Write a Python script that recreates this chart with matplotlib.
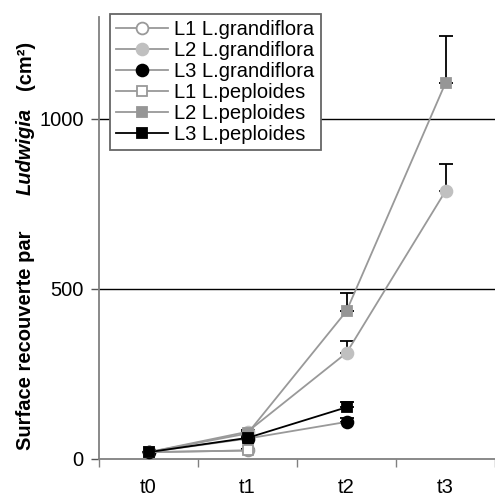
import numpy as np
import matplotlib
matplotlib.use("Agg")
import matplotlib.pyplot as plt

plt.rcParams["font.family"] = ["Liberation Sans", "DejaVu Sans"]

# categories
times = ["t0", "t1", "t2", "t3"]
nan = np.nan

# series (cm2) and upper error
l1_gran = [20, 25, nan, nan]
l1_gran_err = [0, 4, 0, 0]
l2_gran = [20, 80, 312, 788]
l2_gran_err = [0, 5, 35, 80]
l3_gran = [20, 60, 109, nan]
l3_gran_err = [0, 5, 12, 0]
l1_pep = [20, 25, nan, nan]
l1_pep_err = [0, 4, 0, 0]
l2_pep = [20, 75, 435, 1106]
l2_pep_err = [0, 5, 53, 138]
l3_pep = [20, 62, 152, nan]
l3_pep_err = [0, 8, 16, 0]

series = [
    ("L1 L.grandiflora", l1_gran, l1_gran_err, "#999999", "o", "white", "#999999", 8.5),
    ("L2 L.grandiflora", l2_gran, l2_gran_err, "#999999", "o", "#c0c0c0", "#c0c0c0", 8.5),
    ("L3 L.grandiflora", l3_gran, l3_gran_err, "#999999", "o", "black", "black", 8.5),
    ("L1 L.peploides", l1_pep, l1_pep_err, "#999999", "s", "white", "#999999", 7),
    ("L2 L.peploides", l2_pep, l2_pep_err, "#999999", "s", "#969696", "#969696", 7),
    ("L3 L.peploides", l3_pep, l3_pep_err, "black", "s", "black", "black", 7),
]

W, H = 495, 497
fig = plt.figure(figsize=(W / 100, H / 100), dpi=100)
ax = fig.add_axes([0.2, 0.0765, 0.8, 0.8893])

x = np.arange(len(times))
for label, vals, err, lc, mk, mfc, mec, ms in series:
    vals = np.array(vals, dtype=float)
    err = np.array(err, dtype=float)
    ax.errorbar(x, vals, yerr=[np.zeros_like(err), err], fmt="none",
                ecolor="black", elinewidth=1.3, capsize=5, capthick=1.3, zorder=2)
    ax.plot(x, vals, color=lc, lw=1.3, marker=mk, markersize=ms,
            markerfacecolor=mfc, markeredgecolor=mec, markeredgewidth=1.3,
            label=label, zorder=3)

ax.set_xlim(-0.5, 3.42)
ax.set_ylim(0, 1300)
ax.set_yticks([0, 500, 1000])
ax.set_xticks(x)
ax.set_xticklabels(times)
ax.set_xticks(np.arange(-0.5, 3.6, 1.0), minor=True)
ax.tick_params(axis="x", which="major", length=0, labelsize=14.5, pad=14)
ax.tick_params(axis="x", which="minor", length=6, width=1, color="#808080", direction="out")
ax.tick_params(axis="y", length=6, width=1, color="#555555", labelsize=14.5, pad=5)

for y in [500, 1000]:
    ax.axhline(y, color="black", lw=1, zorder=1)

for side in ["top", "right"]:
    ax.spines[side].set_visible(False)
ax.spines["left"].set_color("#808080")
ax.spines["bottom"].set_color("#808080")
ax.spines["left"].set_linewidth(1.3)
ax.spines["bottom"].set_linewidth(1.3)

# y label in three pieces (regular bold / italic bold / unit), spaced like the original
label_parts = [
    ("Surface recouverte par", "normal", 450),
    ("Ludwigia", "italic", 195),
    ("(cm²)", "normal", 90),
]
for txt, style, y_px in label_parts:
    fig.text(31 / W, 1 - y_px / H, txt, rotation=90, rotation_mode="anchor",
             ha="left", va="baseline", fontsize=14.5, fontweight="bold",
             fontstyle=style)

leg = fig.legend(loc="upper left", bbox_to_anchor=(110 / W, 1 - 14 / H),
                 borderaxespad=0, fontsize=14.5, handlelength=2.6,
                 handletextpad=0.3, labelspacing=0.1, borderpad=0.3,
                 fancybox=False, framealpha=1)
leg.get_frame().set_edgecolor("#666666")
leg.get_frame().set_linewidth(1.3)

fig.savefig("out.png", dpi=100)
